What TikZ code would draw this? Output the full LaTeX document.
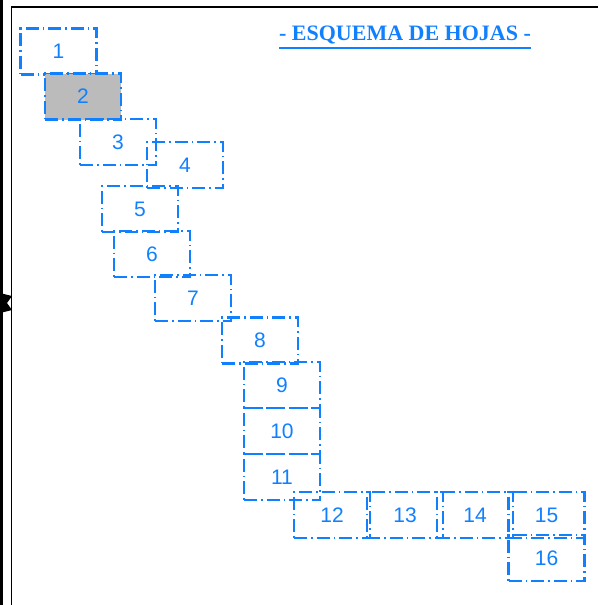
\documentclass[tikz,border=0pt]{standalone}
\usepackage{fontspec}
\setmainfont{Liberation Serif}
\setsansfont{Liberation Sans}
\usetikzlibrary{positioning}
\definecolor{hojablue}{RGB}{16,128,255}
\definecolor{hojagray}{RGB}{187,187,187}
\tikzset{
  hoja/.style={
    rectangle,
    draw=hojablue,
    line width=2.2pt,
    dash pattern=on 13pt off 4pt on 1.5pt off 4pt,
    minimum width=76pt,
    minimum height=46pt,
    inner sep=0pt,
    text=hojablue,
    font=\sffamily\fontsize{21}{21}\selectfont
  },
  titulo/.style={
    text=hojablue,
    font=\bfseries\fontsize{22}{22}\selectfont,
    inner sep=0pt
  },
  marco/.style={
    draw=black,
    line width=1.6pt
  }
}

\begin{document}
\begin{tikzpicture}[x=1pt, y=-1pt]
  \useasboundingbox (0,0) rectangle (598,605);
  % marco
  \fill[black] (0,0) rectangle (3,605);
  \draw[marco] (11.5,605) -- (11.5,7) -- (598,7);
  \fill[black] (0,293) -- (12,296) -- (7,303) -- (12,310) -- (0,313) -- cycle;

  % titulo
  \node[titulo] (titulo) at (405,35) {- ESQUEMA DE HOJAS -};
  \draw[hojablue, line width=2.2pt] ([yshift=-4pt]titulo.south west) -- ([yshift=-4pt]titulo.south east);

  % hojas
  \node[hoja] (h1) at (58.5,51.5) {1};
  \node[hoja, fill=hojagray] (h2) at (83,96.5) {2};
  \node[hoja] (h3) at (118,142) {3};
  \node[hoja] (h4) at (185,165) {4};
  \node[hoja] (h5) at (140,209) {5};
  \node[hoja] (h6) at (152,254) {6};
  \node[hoja] (h7) at (193,298) {7};
  \node[hoja] (h8) at (260,340.5) {8};
  \node[hoja] (h9) at (282,385) {9};
  \node[hoja] (h10) at (282,431) {10};
  \node[hoja] (h11) at (282,477) {11};
  \node[hoja] (h12) at (332,515) {12};
  \node[hoja] (h13) at (405,515) {13};
  \node[hoja] (h14) at (475,515) {14};
  \node[hoja] (h15) at (546.5,515) {15};
  \node[hoja] (h16) at (546.5,558) {16};
\end{tikzpicture}
\end{document}
